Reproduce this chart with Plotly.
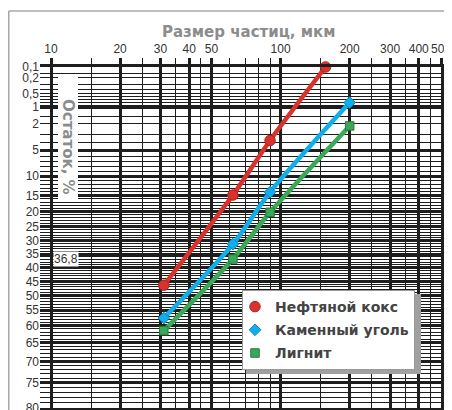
import numpy as np
import plotly.graph_objects as go

# ---------------- data ----------------
coke_x = [31, 62, 90, 157]
coke_r = [46.4, 14.9, 3.7, 0.1]
coal_x = [31, 62, 90, 200]
coal_r = [57.6, 31.3, 14.1, 0.8]
lignite_x = [31, 62, 90, 200]
lignite_r = [61.5, 36.8, 20.2, 2.2]

series_names = ["Нефтяной кокс", "Каменный уголь", "Лигнит"]

x_major = [10, 20, 30, 40, 50, 100, 200, 300, 400, 500]
x_major_text = ["10", "20", "30", "40", "50", "100", "200", "300", "400", "500"]
x_minor = [15, 25, 35, 45, 60, 70, 80, 90, 150, 250, 350, 450]

y_labels = [0.1, 0.2, 0.5, 1, 2, 5, 10, 15, 20, 25, 30, 35, 40, 45, 50,
            55, 60, 65, 70, 75, 80]
y_label_text = ["0,1", "0,2", "0,5", "1", "2", "5", "10", "15", "20", "25",
                "30", "35", "40", "45", "50", "55", "60", "65", "70", "75", "80"]
y_thick = [0.1, 1, 5] + list(range(10, 81, 5))
y_thin = [0.15, 0.2, 0.3, 0.4, 0.5, 0.6, 0.7, 0.8, 0.9, 1.5, 2, 3, 4,
          6, 7, 8, 9] + [v for v in range(11, 80) if v % 5]

marker_value = 36.8  # 100/e


def rr(r):
    """Rosin-Rammler transform of residue %."""
    r = np.asarray(r, dtype=float)
    return np.log(np.log(100.0 / r))


# ---------------- geometry helpers ----------------
# the page body adds an 8px offset; figure margins compensate for it
W, H = 452, 410
OFF = 8
ML, MT = 40 - OFF, 67 - OFF
MR, MB = W - (441 - OFF), H - (408 - OFF)
PW, PH = W - ML - MR, H - MT - MB


def xp(px):  # page pixel -> paper x
    return (px - OFF - ML) / PW


def yp(py):  # page pixel -> paper y
    return (H - MB - (py - OFF)) / PH


GRID = "#1e1e1e"
colors = ["#d8322b", "#10aeea", "#3aa856"]
edge = ["#b02020", "#0b86c0", "#257a3a"]
symbols = ["circle", "diamond", "square"]
msizes = [10.5, 9, 8.5]

fig = go.Figure()
for i, (xs, rs) in enumerate([(coke_x, coke_r), (coal_x, coal_r),
                              (lignite_x, lignite_r)]):
    fig.add_trace(go.Scatter(
        x=xs, y=rr(rs), name=series_names[i], mode="lines",
        yaxis="y2", showlegend=False, hoverinfo="skip",
        line=dict(color=colors[i], width=4.5, shape="spline", smoothing=0.8),
        cliponaxis=False,
    ))
    fig.add_trace(go.Scatter(
        x=xs, y=rr(rs), name=series_names[i], mode="markers",
        yaxis="y2", legendgroup=f"g{i}",
        marker=dict(symbol=symbols[i], size=msizes[i], color=colors[i],
                    line=dict(color=edge[i], width=1)),
        cliponaxis=False,
    ))

y_range = [float(rr(80)), float(rr(0.1))]
x_range = [1 - 11 / 229, np.log10(500)]

fig.update_layout(
    width=W, height=H,
    margin=dict(l=ML, r=MR, t=MT, b=MB, pad=0, autoexpand=False),
    paper_bgcolor="white", plot_bgcolor="white",
    font=dict(family="Liberation Sans, Arial", size=12, color="#333"),
    xaxis=dict(
        type="log", range=x_range, side="top", automargin=False,
        tickmode="array", tickvals=x_major, ticktext=x_major_text,
        tickangle=0,
        ticks="outside", ticklen=6, tickwidth=2.5, tickcolor=GRID,
        showgrid=True, gridcolor=GRID, gridwidth=2.5,
        showline=True, linecolor=GRID, linewidth=2.5, mirror=True,
        zeroline=False,
        tickfont=dict(size=12, color="#333"),
        minor=dict(tickmode="array", tickvals=x_minor, ticks="outside",
                   ticklen=6, tickwidth=1, tickcolor=GRID,
                   showgrid=True, gridcolor=GRID, gridwidth=1),
    ),
    yaxis=dict(
        range=y_range, tickmode="array", tickvals=rr(y_labels),
        ticktext=y_label_text, ticks="", showgrid=False, zeroline=False,
        showline=False, tickfont=dict(size=12, color="#333"),
        automargin=False, tickangle=0,
        minor=dict(tickmode="array", tickvals=rr(y_thin), ticks="",
                   showgrid=True, gridcolor=GRID, gridwidth=1),
    ),
    yaxis2=dict(
        range=y_range, overlaying="y", side="right", automargin=False,
        tickmode="array", tickvals=rr(y_thick), showticklabels=False,
        ticks="", showgrid=True, gridcolor=GRID, gridwidth=2.5,
        zeroline=False, showline=True, linecolor=GRID, linewidth=2.5,
    ),
    legend=dict(
        x=xp(242), y=yp(290), xanchor="left", yanchor="top",
        bgcolor="white", bordercolor="#9a9a9a", borderwidth=1,
        font=dict(family="DejaVu Sans", size=14, color="#444",
                  weight="bold"),
        indentation=-8, tracegroupgap=2,
    ),
    showlegend=True,
)

shapes = [
    # outer frame
    dict(type="line", xref="paper", yref="paper", x0=xp(8.75), x1=xp(8.75),
         y0=yp(11), y1=yp(430), line=dict(color="#a8a8a8", width=1.5)),
    dict(type="line", xref="paper", yref="paper", x0=xp(8.75), x1=xp(470),
         y0=yp(11), y1=yp(11), line=dict(color="#a8a8a8", width=1.5)),
    # white box behind y title
    dict(type="rect", xref="paper", yref="paper", x0=xp(58), x1=xp(78),
         y0=yp(202), y1=yp(77), fillcolor="white", line=dict(width=0),
         layer="above"),
    # legend shadow
    dict(type="rect", xref="paper", yref="paper", x0=xp(246), x1=xp(421),
         y0=yp(374), y1=yp(294), fillcolor="#a0a0a0", line=dict(width=0),
         layer="above"),
]
fig.update_layout(shapes=shapes)

fig.add_annotation(text="Размер частиц, мкм", xref="paper", yref="paper",
                   x=xp(248), y=yp(32), xanchor="center", yanchor="middle",
                   showarrow=False,
                   font=dict(family="DejaVu Sans", size=15, color="#8c8c8c",
                             weight="bold"))
fig.add_annotation(text="Остаток, %", xref="paper", yref="paper",
                   x=xp(68), y=yp(147), xanchor="center", yanchor="middle",
                   showarrow=False, textangle=90,
                   font=dict(family="DejaVu Sans", size=15, color="#8c8c8c",
                             weight="bold"))
fig.add_annotation(text="36,8", xref="paper", yref="y",
                   x=xp(53), xanchor="left", yanchor="middle",
                   y=float(rr(marker_value)),
                   showarrow=False, bgcolor="white", borderpad=0,
                   font=dict(family="Liberation Sans", size=12, color="#333"))

fig.write_html("out.html")
